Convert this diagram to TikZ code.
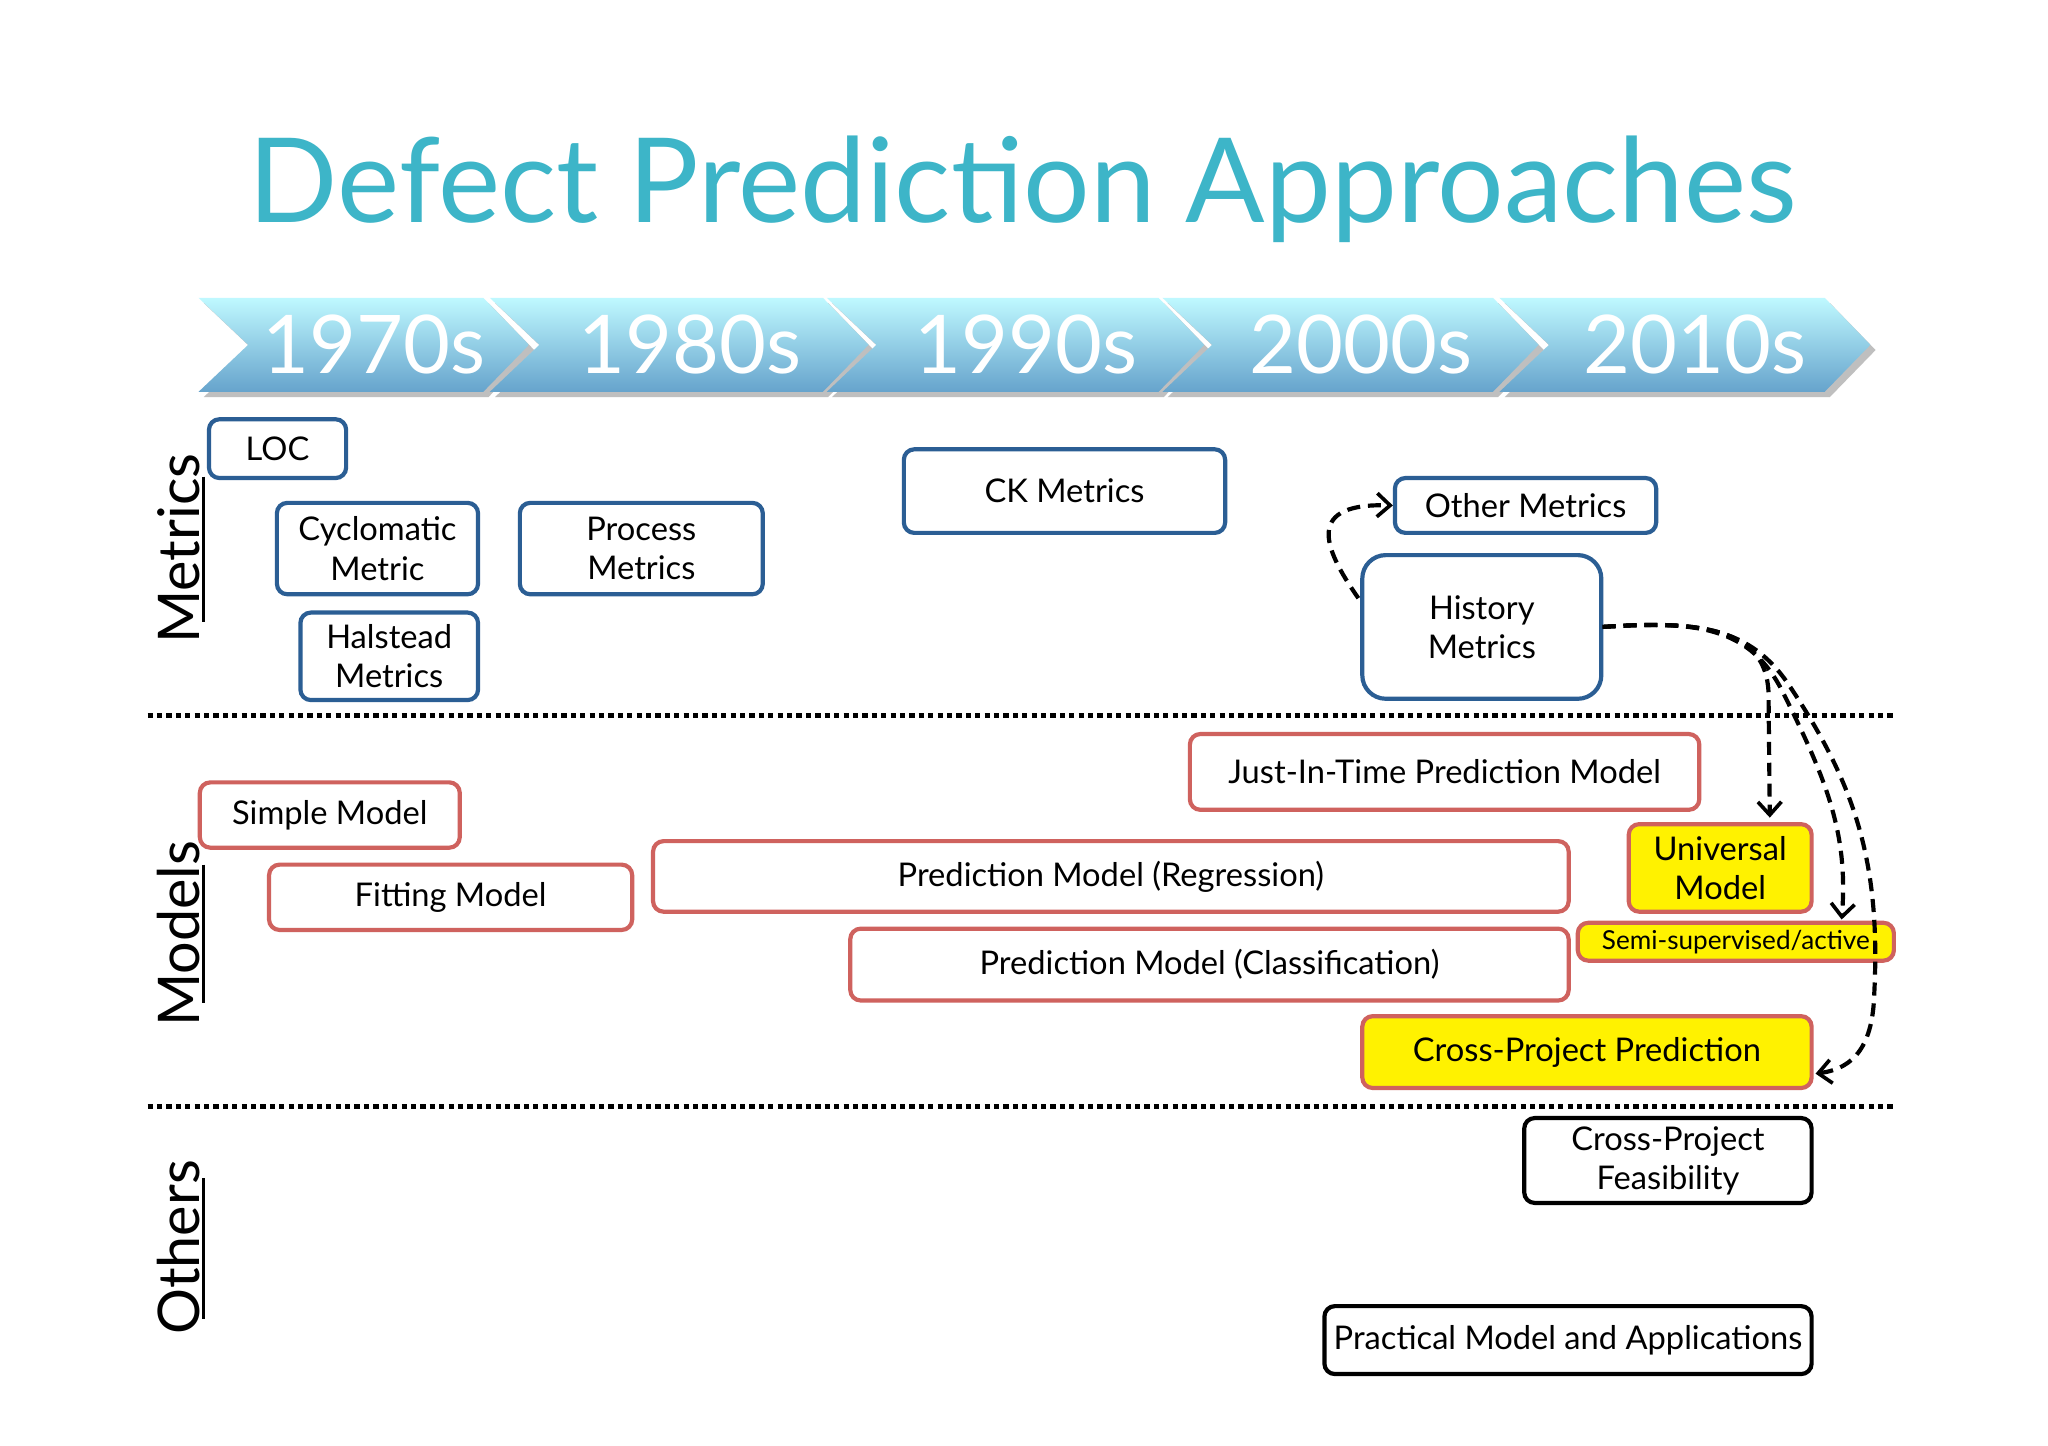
\documentclass[tikz,border=0pt]{standalone}
\usepackage{fontspec}
\setmainfont{Lato}
\usetikzlibrary{arrows.meta}
\definecolor{ttl}{HTML}{3DB5C8}
\definecolor{bb}{HTML}{2B5E94}
\definecolor{rb}{HTML}{CF625E}
\definecolor{yl}{HTML}{FFF200}
\tikzset{
 base/.style={draw, rounded corners=4pt, line width=1.6pt, align=center, inner sep=0pt, font=\fontsize{12.5}{15}\selectfont},
 mb/.style={base, draw=bb},
 rbx/.style={base, draw=rb},
 ybx/.style={base, draw=rb, fill=yl},
 kb/.style={base, draw=black},
 chev/.style={top color=blue!10!cyan!25!white, bottom color=blue!40!cyan!50!gray!80!white, draw=none},
 yr/.style={font=\fontsize{31}{31}\selectfont, text=white},
 dsh/.style={line width=1.6pt, dash pattern=on 5pt off 3pt, -{Straight Barb[length=5pt,width=9pt,line width=1.4pt]}},
 sep/.style={line width=2pt, dash pattern=on 2pt off 1.6pt},
 side/.style={rotate=90, font=\fontsize{22}{22}\selectfont}
}
\newcommand\mybox[7]{\node[#1, minimum width={(#4-#2)*0.5pt}, minimum height={(#5-#3)*0.5pt}] (#6) at ({(#2+#4)/2},{(#3+#5)/2}) {#7};}
\begin{document}
\begin{tikzpicture}[x=0.5pt,y=-0.5pt]
\useasboundingbox[fill=white] (0,0) rectangle (1568,1107);
\node[text=ttl, font=\fontsize{45}{45}\selectfont] (title) at (783,145) {Defect Prediction Approaches};
% chevrons
\foreach \a/\b/\t/\n in {152/405/1970s/c1,375/665/1980s/c2,633/922/1990s/c3,890/1178/2000s/c4,1148/1432/2010s/c5}{
 \fill[black!25] (\a+4,232) -- (\b-35+4,232) -- (\b+4,268) -- (\b-35+4,304) -- (\a+4,304) -- (\a+38+4,268) -- cycle;
 \shade[chev] (\a,228) -- (\b-35,228) -- (\b,264) -- (\b-35,300) -- (\a,300) -- (\a+38,264) -- cycle;
 \node[yr] (\n) at ({(\a+\b)/2+8},264) {\t};
}
% separators
\draw[sep] (113,548) -- (1450,548);
\draw[sep] (113,847) -- (1450,847);
% side labels
\node[side] (lm) at (137,420) {Metrics};
\draw[line width=1pt] (156,365) -- (156,476);
\node[side] (lmo) at (137,715) {Models};
\draw[line width=1pt] (156,662) -- (156,768);
\node[side] (lo) at (137,955) {Others};
\draw[line width=1pt] (156,902) -- (156,1010);
% metrics
\mybox{mb}{160}{321}{265}{366}{loc}{LOC}
\mybox{mb}{212}{385}{366}{455}{cyc}{Cyclomatic\\Metric}
\mybox{mb}{230}{469}{366}{536}{hal}{Halstead\\Metrics}
\mybox{mb}{398}{385}{584}{455}{proc}{Process\\Metrics}
\mybox{mb}{692}{344}{938}{408}{ck}{CK Metrics}
\mybox{mb}{1068}{366}{1268}{408}{oth}{Other Metrics}
\node[mb, rounded corners=9pt, minimum width=91.5pt, minimum height=55pt] (hist) at (1134.5,480) {History\\Metrics};
% models
\mybox{rbx}{153}{599}{352}{649}{simple}{Simple Model}
\mybox{rbx}{206}{662}{484}{712}{fit}{Fitting Model}
\mybox{rbx}{500}{644}{1201}{698}{reg}{Prediction Model (Regression)}
\mybox{rbx}{651}{711}{1201}{766}{cls}{Prediction Model (Classification)}
\mybox{rbx}{911}{562}{1301}{620}{jit}{Just-In-Time Prediction Model}
\mybox{ybx}{1247}{631}{1387}{698}{univ}{Universal\\Model}
\node[ybx, minimum width=121pt, minimum height=14.5pt, font=\fontsize{10}{12}\selectfont] (semi) at (1329,721) {Semi-supervised/active};
\mybox{ybx}{1043}{778}{1387}{833}{cpp}{Cross-Project Prediction}
% others
\mybox{kb}{1167}{856}{1387}{921}{cpf}{Cross-Project\\Feasibility}
\mybox{kb}{1014}{1000}{1387}{1052}{prac}{Practical Model and Applications}
% arrows
\coordinate (hl) at (1040,458);
\coordinate (hr) at (1227,480);
\draw[dsh] (hl) .. controls (1012,418) and (1000,385) .. (oth.west);
\draw[dsh] (hr) .. controls (1300,475) and (1352,480) .. (1354,530) -- (1355,626);
\draw[dsh] (hr) .. controls (1300,475) and (1340,480) .. (1365,530) .. controls (1400,600) and (1415,640) .. (1410,704);
\draw[dsh] (hr) .. controls (1300,475) and (1340,480) .. (1370,525) .. controls (1420,600) and (1440,660) .. (1435,760) .. controls (1434,800) and (1420,818) .. (1390,822);
\end{tikzpicture}
\end{document}
